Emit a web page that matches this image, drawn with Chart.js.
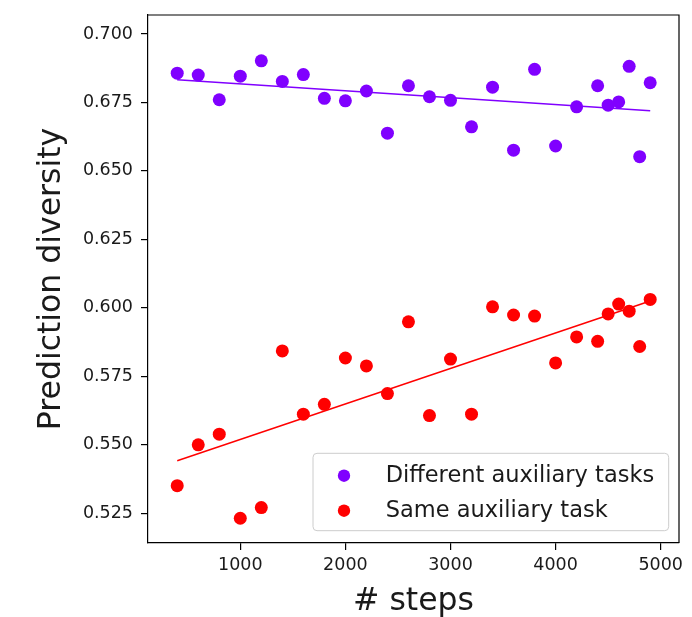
<!DOCTYPE html>
<html>
<head>
<meta charset="utf-8">
<script src="https://cdn.jsdelivr.net/npm/chart.js@4/dist/chart.umd.min.js"></script>
<style>
  html, body { margin: 0; padding: 0; background: #ffffff; }
  #wrap { width: 692px; height: 617px; }
</style>
</head>
<body>
<div id="wrap"><canvas id="c" width="692" height="617"></canvas></div>
<script>
// ---- data ----
const steps = [400, 600, 800, 1000, 1200, 1400, 1600, 1800, 2000, 2200, 2400, 2600, 2800,
               3000, 3200, 3400, 3600, 3800, 4000, 4200, 4400, 4500, 4600, 4700, 4800, 4900];

const differentTasks = [0.6857, 0.6850, 0.6760, 0.6846, 0.6902, 0.6827, 0.6852, 0.6765, 0.6756,
                        0.6792, 0.6638, 0.6811, 0.6771, 0.6758, 0.6661, 0.6806, 0.6576, 0.6871,
                        0.6591, 0.6734, 0.6811, 0.6740, 0.6752, 0.6882, 0.6552, 0.6822];

const sameTask = [0.5351, 0.5500, 0.5539, 0.5232, 0.5271, 0.5843, 0.5612, 0.5648, 0.5817,
                  0.5788, 0.5687, 0.5949, 0.5607, 0.5813, 0.5612, 0.6004, 0.5974, 0.5970,
                  0.5799, 0.5894, 0.5878, 0.5978, 0.6014, 0.5988, 0.5859, 0.6031];

// fitted trend lines: endpoints
const fitSteps = [400, 4900];
const differentFit = [0.6833, 0.6720];
const sameFit = [0.5442, 0.6025];

const seriesLabels = ['Different auxiliary tasks', 'Same auxiliary task'];
const xTicks = [1000, 2000, 3000, 4000, 5000];
const yTicks = [0.525, 0.550, 0.575, 0.600, 0.625, 0.650, 0.675, 0.700];

const xTitle = '# steps';
const yTitle = 'Prediction diversity';

// ---- styling ----
const PURPLE = '#8000ff';
const RED = '#ff0000';
const FONT = "'DejaVu Sans', sans-serif";
const TEXT = '#1a1a1a';

const toPts = (xs, ys) => xs.map((x, i) => ({x: x, y: ys[i]}));

const frameAndLegend = {
  id: 'frameAndLegend',
  afterDatasetsDraw(chart) {
    const {ctx, chartArea: a} = chart;
    ctx.save();
    // top and right spines
    ctx.strokeStyle = '#000';
    ctx.lineWidth = 1.2;
    ctx.beginPath();
    ctx.moveTo(a.left, a.top);
    ctx.lineTo(a.right, a.top);
    ctx.lineTo(a.right, a.bottom);
    ctx.stroke();

    // legend box (lower right, inside the plot)
    const w = 355.7, h = 77.4;
    const x0 = a.right - 10.3 - w, y0 = a.bottom - 12.3 - h;
    const r = 4;
    ctx.beginPath();
    ctx.moveTo(x0 + r, y0);
    ctx.lineTo(x0 + w - r, y0);
    ctx.quadraticCurveTo(x0 + w, y0, x0 + w, y0 + r);
    ctx.lineTo(x0 + w, y0 + h - r);
    ctx.quadraticCurveTo(x0 + w, y0 + h, x0 + w - r, y0 + h);
    ctx.lineTo(x0 + r, y0 + h);
    ctx.quadraticCurveTo(x0, y0 + h, x0, y0 + h - r);
    ctx.lineTo(x0, y0 + r);
    ctx.quadraticCurveTo(x0, y0, x0 + r, y0);
    ctx.closePath();
    ctx.fillStyle = 'rgba(255,255,255,0.8)';
    ctx.fill();
    ctx.strokeStyle = '#cccccc';
    ctx.lineWidth = 1;
    ctx.stroke();

    const colors = [PURPLE, RED];
    const rows = [22.4, 57.4];
    ctx.font = '22.5px ' + FONT;
    ctx.textAlign = 'left';
    ctx.textBaseline = 'alphabetic';
    seriesLabels.forEach((lab, i) => {
      const cy = y0 + rows[i];
      ctx.beginPath();
      ctx.arc(x0 + 31, cy, 6.2, 0, Math.PI * 2);
      ctx.fillStyle = colors[i];
      ctx.fill();
      ctx.fillStyle = TEXT;
      ctx.fillText(lab, x0 + 72.7, cy + 6.2);
    });
    ctx.restore();
  }
};

new Chart(document.getElementById('c'), {
  type: 'scatter',
  data: {
    datasets: [
      {
        label: seriesLabels[0],
        data: toPts(steps, differentTasks),
        backgroundColor: PURPLE,
        borderWidth: 0,
        pointRadius: 6.5,
        order: 1
      },
      {
        label: seriesLabels[1],
        data: toPts(steps, sameTask),
        backgroundColor: RED,
        borderWidth: 0,
        pointRadius: 6.5,
        order: 1
      },
      {
        label: 'fit different',
        data: toPts(fitSteps, differentFit),
        showLine: true,
        borderColor: PURPLE,
        borderWidth: 1.5,
        pointRadius: 0,
        order: 2
      },
      {
        label: 'fit same',
        data: toPts(fitSteps, sameFit),
        showLine: true,
        borderColor: RED,
        borderWidth: 1.5,
        pointRadius: 0,
        order: 2
      }
    ]
  },
  options: {
    responsive: false,
    animation: false,
    devicePixelRatio: 1,
    layout: { padding: { left: 0, top: 15, right: 13, bottom: 0 } },
    plugins: {
      legend: { display: false },
      tooltip: { enabled: false }
    },
    scales: {
      x: {
        type: 'linear',
        min: 122,
        max: 5174,
        afterBuildTicks: (s) => { s.ticks = xTicks.map(v => ({value: v})); },
        afterFit: (s) => { s.height = 74; s.paddingLeft = 0; s.paddingRight = 0; },
        ticks: {
          color: TEXT,
          font: { family: FONT, size: 17.5 },
          padding: 5,
          maxRotation: 0,
          callback: (v) => String(v)
        },
        grid: { display: true, drawOnChartArea: false, drawTicks: true, tickLength: 7, color: '#000', lineWidth: 1.2 },
        border: { display: true, color: '#000', width: 1.2 },
        title: {
          display: true,
          text: xTitle,
          color: TEXT,
          font: { family: FONT, size: 31.5 },
          padding: { top: 0, bottom: -4 }
        }
      },
      y: {
        type: 'linear',
        min: 0.51416,
        max: 0.70694,
        afterBuildTicks: (s) => { s.ticks = yTicks.map(v => ({value: v})); },
        afterFit: (s) => { s.width = 148; s.paddingTop = 0; s.paddingBottom = 0; },
        ticks: {
          color: TEXT,
          font: { family: FONT, size: 17.5 },
          padding: 8,
          callback: (v) => Number(v).toFixed(3)
        },
        grid: { display: true, drawOnChartArea: false, drawTicks: true, tickLength: 7, color: '#000', lineWidth: 1.2 },
        border: { display: true, color: '#000', width: 1.2 },
        title: {
          display: true,
          text: yTitle,
          color: TEXT,
          font: { family: FONT, size: 31.5 },
          padding: { top: 33, bottom: 0 }
        }
      }
    }
  },
  plugins: [frameAndLegend]
});
</script>
</body>
</html>
